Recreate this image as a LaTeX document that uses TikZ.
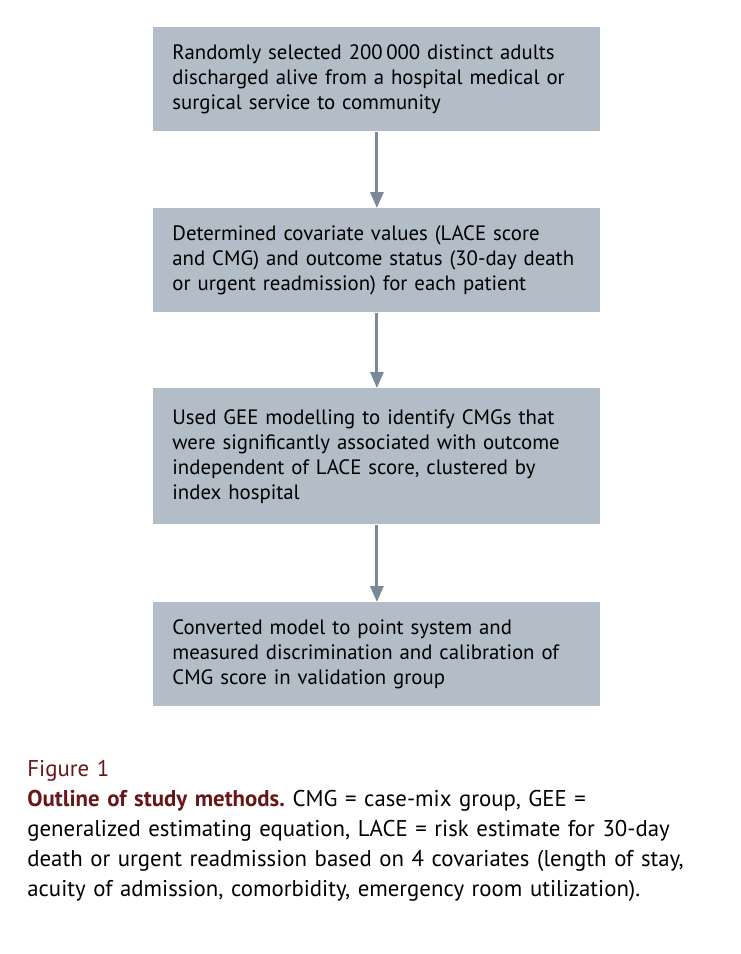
\documentclass[tikz,border=0pt]{standalone}
\usepackage{fontspec}
\setmainfont{PT Sans}
\usetikzlibrary{arrows.meta}
\definecolor{BoxGray}{RGB}{178, 189, 199}
\definecolor{ArrowGray}{RGB}{120, 137, 152}
\definecolor{CapRed}{RGB}{105, 22, 24}
\frenchspacing

\begin{document}
\begin{tikzpicture}[x=0.5pt, y=-0.5pt,
        stepbox/.style={rectangle, fill=BoxGray, anchor=north west, text width=204.5pt, inner xsep=9.5pt, inner ysep=0pt, align=left, font=\fontsize{10.4}{12.5}\selectfont},
        flow/.style={ArrowGray, line width=1.5pt, -{Triangle[width=6.5pt, length=8pt]}},
        caption/.style={anchor=north west, inner sep=0pt, text width=360pt, align=left, font=\fontsize{11.4}{15}\selectfont}
    ]
        \useasboundingbox (0,0) rectangle (740,954);
        % Steps of the study
        \node[stepbox, minimum height=52pt] (sample) at (153,27)
            {Randomly selected 200\,000 distinct adults\\discharged alive from a hospital medical or\\surgical service to community};
        \node[stepbox, minimum height=52pt] (covars) at (153,208)
            {Determined covariate values (LACE score\\and CMG) and outcome status (30-day death\\or urgent readmission) for each patient};
        \node[stepbox, minimum height=68pt] (gee) at (153,388)
            {Used GEE modelling to identify CMGs that\\were significantly associated with outcome\\independent of LACE score, clustered by\\index hospital};
        \node[stepbox, minimum height=52pt] (points) at (153,602)
            {Converted model to point system and\\measured discrimination and calibration of\\CMG score in validation group};
        % Arrows between steps
        \draw[flow] (sample) -- (covars);
        \draw[flow] (covars) -- (gee);
        \draw[flow] (gee) -- (points);
        % Caption
        \node[caption] (figcap) at (27,760)
            {\textcolor{CapRed}{Figure 1}\\
             \textcolor{CapRed}{\textbf{Outline of study methods.}} CMG = case-mix group, GEE =\\
             generalized estimating equation, LACE = risk estimate for 30-day\\
             death or urgent readmission based on 4 covariates (length of stay,\\
             acuity of admission, comorbidity, emergency room utilization).};
    \end{tikzpicture}
\end{document}
